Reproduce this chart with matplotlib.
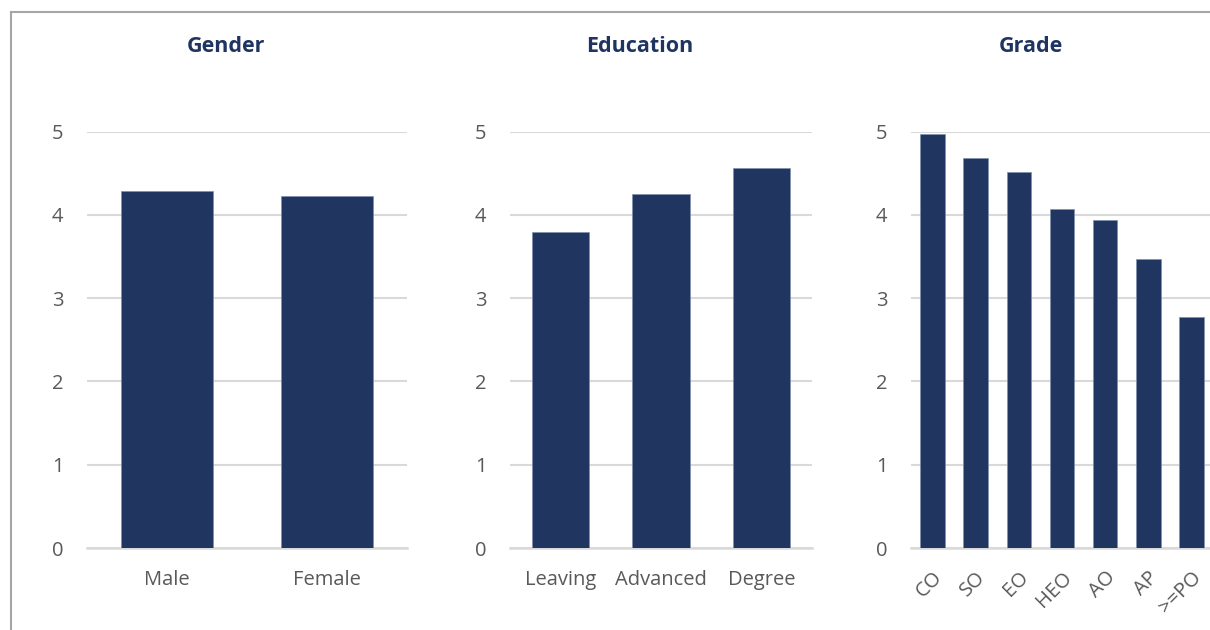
import matplotlib
matplotlib.use("Agg")
import matplotlib.pyplot as plt
from matplotlib.lines import Line2D

plt.rcParams['font.family'] = ['Open Sans', 'DejaVu Sans']

gender_labels = ['Male', 'Female']
gender_values = [4.29, 4.23]
edu_labels = ['Leaving', 'Advanced', 'Degree']
edu_values = [3.80, 4.25, 4.57]
grade_labels = ['CO', 'SO', 'EO', 'HEO', 'AO', 'AP', '>=PO']
grade_values = [4.97, 4.69, 4.52, 4.07, 3.94, 3.47, 2.77]
y_ticks = [0, 1, 2, 3, 4, 5]

W, H = 1210, 630
bar_color = '#203560'
grid_color = '#d9d9d9'
text_color = '#595959'
title_color = '#1f3461'

fig = plt.figure(figsize=(W / 100, H / 100), dpi=100)

def px_axes(x0, x1, y_top, y_bot):
    return fig.add_axes([x0 / W, 1 - y_bot / H, (x1 - x0) / W, (y_bot - y_top) / H])

panels = [
    ('Gender', gender_labels, gender_values, (87, 407), 226, 0),
    ('Education', edu_labels, edu_values, (510, 812), 640, 0),
    ('Grade', grade_labels, grade_values, (911, 1213), 1031, 45),
]

for title, labels, values, (x0, x1), tx, rot in panels:
    ax = px_axes(x0, x1, 131.7, 548)
    pos = list(range(len(labels)))
    ax.bar(pos, values, width=0.57, color=bar_color, edgecolor='#7f8fad',
           linewidth=0.5, zorder=3)
    ax.set_xlim(-0.5, len(labels) - 0.5)
    ax.set_ylim(0, 5)
    ax.set_yticks(y_ticks)
    ax.yaxis.grid(True, color=grid_color, linewidth=1.5, zorder=0)
    ax.set_axisbelow(True)
    for s in ['top', 'right', 'left']:
        ax.spines[s].set_visible(False)
    ax.spines['bottom'].set_color(grid_color)
    ax.spines['bottom'].set_linewidth(1.8)
    ax.tick_params(axis='y', length=0, pad=17, labelsize=14.5, labelcolor=text_color)
    ax.set_xticks(pos)
    if rot:
        ax.set_xticklabels(labels, rotation=45, ha='right', rotation_mode='anchor')
        ax.tick_params(axis='x', length=0, pad=14, labelsize=14.5, labelcolor=text_color)
    else:
        ax.set_xticklabels(labels)
        ax.tick_params(axis='x', length=0, pad=16, labelsize=14.5, labelcolor=text_color)
    ax.set_facecolor('none')
    fig.text(tx / W, 1 - 46 / H, title, ha='center', va='center',
             fontsize=15.5, fontweight='bold', color=title_color)

# chart border (top and left edges)
fig.add_artist(Line2D([11 / W, 1], [1 - 12 / H, 1 - 12 / H], color='#a6a6a6', linewidth=1.5))
fig.add_artist(Line2D([11 / W, 11 / W], [1 - 12 / H, 0], color='#a6a6a6', linewidth=1.5))

fig.savefig('out.png', dpi=100, facecolor='white')
